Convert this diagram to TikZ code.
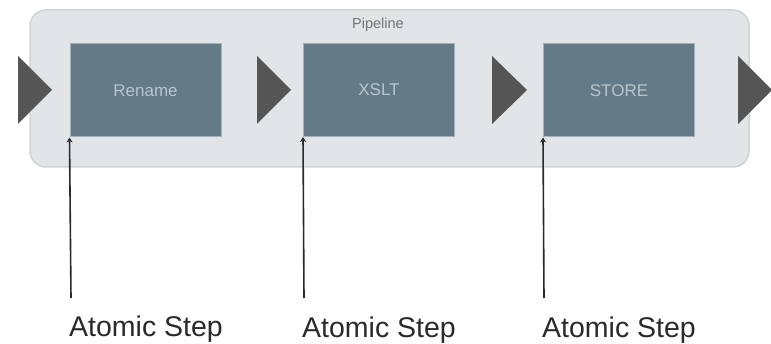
\documentclass[tikz,border=0pt]{standalone}
\usepackage{fontspec}
\setmainfont{Liberation Sans}
\usetikzlibrary{arrows.meta}
\definecolor{contfill}{HTML}{E1E5E8}
\definecolor{contdraw}{HTML}{D0D4D6}
\definecolor{boxfill}{HTML}{647A86}
\definecolor{boxdraw}{HTML}{A3B3BC}
\definecolor{boxtext}{HTML}{B8C5CC}
\definecolor{trifill}{HTML}{555555}
\definecolor{linecol}{HTML}{2A2A2A}
\begin{document}
\begin{tikzpicture}[x=1pt,y=-1pt,
  stepbox/.style={draw=boxdraw, line width=1pt, fill=boxfill, minimum width=151pt, minimum height=93pt, inner sep=0pt, text=boxtext, text height=12pt, text depth=0pt, font=\fontsize{17}{19}\selectfont},
  tri/.style={fill=trifill, draw=none},
  lbl/.style={anchor=base west, inner sep=0pt, text=linecol, font=\fontsize{28.5}{31}\selectfont},
  pointer/.style={draw=linecol, line width=1.6pt, -{Stealth[length=5pt,width=6pt]}}
]
\useasboundingbox (0,0) rectangle (771,344);
\fill[white] (0,0) rectangle (771,344);
% container
\draw[fill=contfill, draw=contdraw, line width=1.5pt, rounded corners=16pt] (30,10) rectangle (749,167);
\node[text=black!55, font=\fontsize{14.5}{16}\selectfont] (pipe) at (378,25) {Pipeline};
% steps
\node[stepbox] (rename) at (145.5,90.5) {Rename};
\node[stepbox] (xslt) at (379,90) {XSLT};
\node[stepbox] (store) at (619,90.5) {STORE};
% triangles
\fill[tri] (18,56) -- (52,90) -- (18,124) -- cycle;
\fill[tri] (257,56) -- (291,90) -- (257,124) -- cycle;
\fill[tri] (492,56) -- (527,90) -- (492,124) -- cycle;
\fill[tri] (738,56) -- (772,90) -- (738,124) -- cycle;
% labels
\node[lbl] (l1) at (69,337) {Atomic Step};
\node[lbl] (l2) at (302,338) {Atomic Step};
\node[lbl] (l3) at (542,338) {Atomic Step};
\coordinate (c1) at (71,298);
\coordinate (c2) at (304,298);
\coordinate (c3) at (544,298);
\draw[pointer] (c1) -- (rename.south west);
\draw[pointer] (c2) -- (xslt.south west);
\draw[pointer] (c3) -- (store.south west);
\end{tikzpicture}
\end{document}
